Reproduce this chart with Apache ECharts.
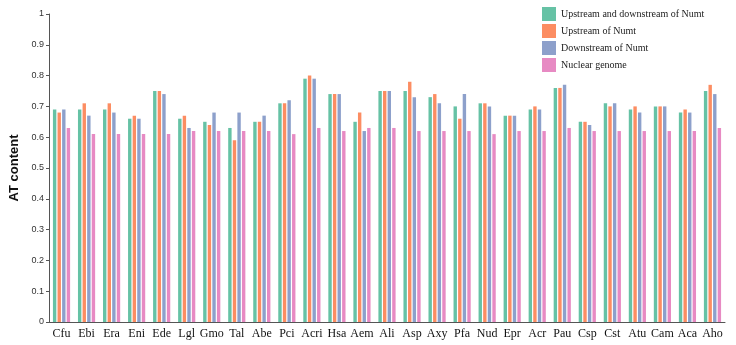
<!DOCTYPE html>
<html>
<head>
<meta charset="utf-8">
<script src="https://cdn.jsdelivr.net/npm/echarts@6/dist/echarts.min.js"></script>
<style>
  html, body { margin: 0; padding: 0; background: #fff; }
  #chart { width: 736px; height: 345px; }
</style>
</head>
<body>
<div id="chart"></div>
<script>
// species
var species = ['Cfu', 'Ebi', 'Era', 'Eni', 'Ede', 'Lgl', 'Gmo', 'Tal', 'Abe', 'Pci', 'Acri', 'Hsa', 'Aem', 'Ali',
  'Asp', 'Axy', 'Pfa', 'Nud', 'Epr', 'Acr', 'Pau', 'Csp', 'Cst', 'Atu', 'Cam', 'Aca', 'Aho']

var upDown = [0.69, 0.69, 0.69, 0.66, 0.75, 0.66, 0.65, 0.63, 0.65, 0.71, 0.79, 0.74, 0.65, 0.75,
  0.75, 0.73, 0.70, 0.71, 0.67, 0.69, 0.76, 0.65, 0.71, 0.69, 0.70, 0.68, 0.75]
var upstream = [0.68, 0.71, 0.71, 0.67, 0.75, 0.67, 0.64, 0.59, 0.65, 0.71, 0.80, 0.74, 0.68, 0.75,
  0.78, 0.74, 0.66, 0.71, 0.67, 0.70, 0.76, 0.65, 0.70, 0.70, 0.70, 0.69, 0.77]
var downstream = [0.69, 0.67, 0.68, 0.66, 0.74, 0.63, 0.68, 0.68, 0.67, 0.72, 0.79, 0.74, 0.62, 0.75,
  0.73, 0.71, 0.74, 0.70, 0.67, 0.69, 0.77, 0.64, 0.71, 0.68, 0.70, 0.68, 0.74]
var nuclear = [0.63, 0.61, 0.61, 0.61, 0.61, 0.62, 0.62, 0.62, 0.62, 0.61, 0.63, 0.62, 0.63, 0.63,
  0.62, 0.62, 0.62, 0.61, 0.62, 0.62, 0.63, 0.62, 0.62, 0.62, 0.62, 0.62, 0.63]

var seriesNames = ['Upstream and downstream of Numt', 'Upstream of Numt', 'Downstream of Numt', 'Nuclear genome']
var colors = ['#66c2a5', '#fc8d62', '#8da0cb', '#e78ac3']

var chart = echarts.init(document.getElementById('chart'))

function bar (name, data, color) {
  return {
    name: name,
    type: 'bar',
    barWidth: 3.4,
    barGap: '35%',
    itemStyle: { color: color },
    data: data
  }
}

chart.setOption({
  animation: false,
  grid: {
    left: 49,
    right: 11,
    top: 14,
    bottom: 23,
    outerBoundsMode: 'none'
  },
  legend: {
    orient: 'vertical',
    left: 537,
    top: 2,
    itemWidth: 14,
    itemHeight: 14,
    itemGap: 3,
    icon: 'rect',
    textStyle: {
      fontFamily: 'Liberation Serif',
      fontSize: 10,
      color: '#222'
    },
    data: seriesNames
  },
  xAxis: {
    type: 'category',
    data: species,
    axisLine: { lineStyle: { color: '#555', width: 1 } },
    axisTick: { alignWithLabel: true, length: 3, lineStyle: { color: '#555' } },
    axisLabel: {
      fontFamily: 'Liberation Serif',
      fontSize: 12,
      color: '#111',
      margin: 6,
      interval: 0
    }
  },
  yAxis: {
    type: 'value',
    min: 0,
    max: 1,
    interval: 0.1,
    name: 'AT content',
    nameLocation: 'middle',
    nameGap: 27,
    nameTextStyle: {
      fontFamily: 'Liberation Sans',
      fontSize: 13,
      fontWeight: 'bold',
      color: '#111'
    },
    axisLine: { show: true, lineStyle: { color: '#555' } },
    axisTick: { show: true, length: 3, lineStyle: { color: '#555' } },
    splitLine: { show: false },
    axisLabel: {
      fontFamily: 'Liberation Sans',
      fontSize: 9,
      color: '#333',
      margin: 5
    }
  },
  series: [
    bar(seriesNames[0], upDown, colors[0]),
    bar(seriesNames[1], upstream, colors[1]),
    bar(seriesNames[2], downstream, colors[2]),
    bar(seriesNames[3], nuclear, colors[3])
  ]
})
</script>
</body>
</html>
